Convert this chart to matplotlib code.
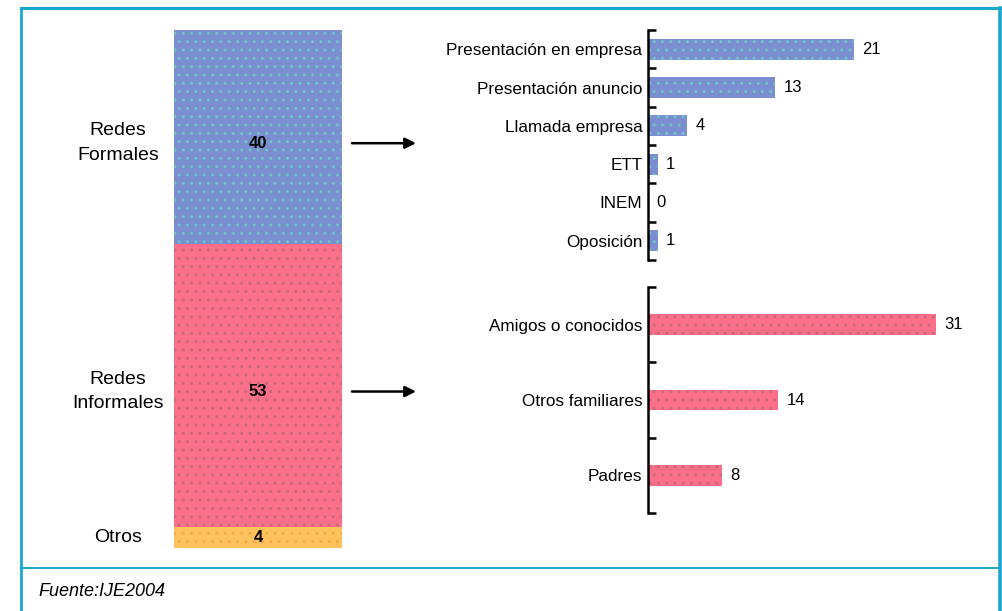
import numpy as np
import matplotlib
matplotlib.use("Agg")
import matplotlib.pyplot as plt
from matplotlib.lines import Line2D

plt.rcParams['font.family'] = ['Liberation Sans', 'DejaVu Sans']
plt.rcParams['hatch.linewidth'] = 1.0

# totals per type of network (stacked column)
grupos = ['Otros', 'Redes\nInformales', 'Redes\nFormales']
totales = [4, 53, 40]
colores = ['#fdc25c', '#fc6f88', '#7b8fd0']
puntos = ['#f7a84a', '#c86a7a', '#6ec3c4']

# breakdown of formal networks
formales = ['Presentación en empresa', 'Presentación anuncio', 'Llamada empresa',
            'ETT', 'INEM', 'Oposición']
formales_val = [21, 13, 4, 1, 0, 1]

# breakdown of informal networks
informales = ['Amigos o conocidos', 'Otros familiares', 'Padres']
informales_val = [31, 14, 8]

W, H = 1002, 611
fig = plt.figure(figsize=(W / 100, H / 100), dpi=100)


def caja(x0, y0, x1, y1):
    # pixel box (top-left origin) -> figure fraction rect
    return [x0 / W, 1 - y1 / H, (x1 - x0) / W, (y1 - y0) / H]


# stacked column on the left
ax = fig.add_axes(caja(174, 30, 342, 548))
base = 0
medios = []
for i, (g, v, c, p) in enumerate(zip(grupos, totales, colores, puntos)):
    ax.bar(0, v, bottom=base, width=1.0, color=c, linewidth=0)
    ax.bar(0, v, bottom=base, width=1.0, facecolor='none', edgecolor=p,
           hatch='..', linewidth=0)
    # labels sit a little below the middle of the big segments
    medio = base + v / 2 - (1.2 if i > 0 else 0)
    medios.append(medio)
    ax.text(0, medio, str(v), ha='center', va='center', fontsize=12,
            fontweight='bold')
    ax.text(-0.5 - 56 / 168, medio, g, ha='center', va='center', fontsize=14,
            linespacing=1.6)
    base += v
ax.set_xlim(-0.5, 0.5)
ax.set_ylim(0, sum(totales))
ax.axis('off')

# arrows from the column to the breakdowns
for m in medios[1:]:
    ax.annotate('', xy=(416 / W, m), xycoords=('figure fraction', 'data'),
                xytext=(352 / W, m), textcoords=('figure fraction', 'data'),
                arrowprops=dict(arrowstyle='-|>', color='black', lw=1.8,
                                mutation_scale=16, shrinkA=0, shrinkB=0),
                annotation_clip=False)


def desglose(rect, nombres, valores, escala, alto, color, punto):
    a = fig.add_axes(rect)
    y = np.arange(len(nombres))
    a.barh(y, valores, height=alto, color=color, linewidth=0)
    a.barh(y, valores, height=alto, facecolor='none', edgecolor=punto,
           hatch='..', linewidth=0)
    for yi, v in zip(y, valores):
        a.annotate(str(v), (v, yi), xytext=(6, 0), textcoords='offset points',
                   ha='left', va='center', fontsize=12)
    a.set_xlim(0, rect[2] * W / escala)
    a.set_ylim(len(nombres) - 0.5, -0.5)
    for s in ['top', 'right', 'bottom']:
        a.spines[s].set_visible(False)
    a.spines['left'].set_linewidth(1.8)
    a.set_xticks([])
    a.set_yticks(y)
    a.set_yticklabels(nombres, fontsize=12.3)
    a.tick_params(axis='y', which='major', length=0, pad=4)
    a.set_yticks(np.arange(-0.5, len(nombres), 1), minor=True)
    a.tick_params(axis='y', which='minor', direction='in', length=6, width=1.8)
    a.patch.set_alpha(0)
    return a


desglose(caja(648, 30, 990, 260), formales, formales_val, 9.8, 0.55,
         colores[2], puntos[2])
desglose(caja(648, 287, 990, 513), informales, informales_val, 9.3, 0.27,
         colores[1], puntos[1])

# outer frame and footer
cian = '#19a8cc'
fig.add_artist(Line2D([21 / W, 21 / W], [0, 1 - 8 / H], color=cian, lw=2))
fig.add_artist(Line2D([999.5 / W, 999.5 / W], [0, 1 - 8 / H], color=cian, lw=2.6))
fig.add_artist(Line2D([21 / W, 999.5 / W], [1 - 8 / H, 1 - 8 / H], color=cian, lw=2.2))
fig.add_artist(Line2D([21 / W, 999.5 / W], [1 - 568 / H, 1 - 568 / H], color=cian, lw=1.4))
fig.text(38 / W, 1 - 591 / H, 'Fuente:IJE2004', fontsize=13, style='italic',
         ha='left', va='center')

fig.savefig('out.png', dpi=100, facecolor='white')
